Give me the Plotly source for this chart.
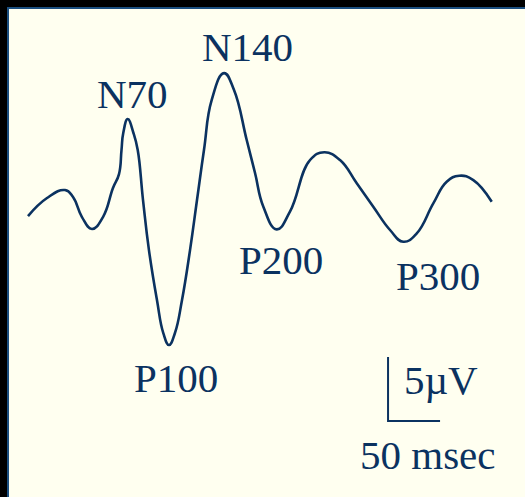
import plotly.graph_objects as go

# Waveform: time (ms) and amplitude (µV, negative plotted up)
time_ms = [0.0, 18.3, 35.6, 43.3, 51.9, 61.5, 72.1, 81.7, 87.5, 89.9, 91.6, 95.9, 101.4,
           105.5, 110.6, 116.3, 124.0, 130.1, 135.6, 141.3, 148.1, 155.8, 162.5, 169.2,
           176.6, 188.5, 198.1, 210.3, 218.3, 226.3, 239.1,
           252.0, 271.2, 284.9, 300.0, 316.1, 332.0, 348.1, 360.9, 373.8, 389.7, 402.6,
           414.7, 428.2, 445.9]
amp_uv = [0.47, -0.94, -1.56, -1.02, 0.55, 1.48, 0.55, -1.72, -2.81, -4.69, -6.02, -7.11, -6.02,
          -4.69, -0.78, 3.13, 7.03, 9.61, 10.55, 9.61, 7.03, 3.13, -0.78, -4.69,
          -8.59, -10.70, -9.38, -5.47, -2.89, -0.26, 1.51,
          0.10, -3.91, -4.51, -3.91, -2.09, -0.26, 1.56, 2.48, 1.82, -0.52, -2.21,
          -2.68, -2.34, -0.65]

# Component labels
labels = ["N70", "N140", "P100", "P200", "P300"]
label_t = [100.5, 211.5, 142.3, 243.3, 394.7]
label_v = [-9.10, -12.70, 13.16, 3.91, 5.16]

# Calibration bar
scale_t = [346.2, 346.2, 396.2]
scale_v = [11.48, 16.48, 16.48]
scale_labels = ["5µV", "50 msec"]
scale_label_t = [397.1, 384.6]
scale_label_v = [13.28, 19.14]

INK = "#0b3260"
CREAM = "#fffff0"
FONT = "Liberation Serif, Times New Roman, serif"

fig = go.Figure()
fig.add_trace(go.Scatter(x=time_ms, y=amp_uv, mode="lines",
                         line=dict(color=INK, width=2.6, shape="spline", smoothing=1.3),
                         hoverinfo="skip"))
fig.add_trace(go.Scatter(x=scale_t, y=scale_v, mode="lines",
                         line=dict(color=INK, width=2), hoverinfo="skip"))

for txt, t, v in zip(labels + scale_labels, label_t + scale_label_t, label_v + scale_label_v):
    fig.add_annotation(x=t, y=v, text=txt, showarrow=False, xanchor="center", yanchor="middle",
                       font=dict(family=FONT, size=41, color=INK))

fig.add_shape(type="rect", xref="paper", yref="paper", x0=8/525, x1=1.05, y0=-0.05, y1=1 - 8/497,
              fillcolor=CREAM, line=dict(color="#1b4f80", width=2), layer="below")

fig.update_layout(
    width=525, height=497, margin=dict(l=0, r=0, t=0, b=0),
    paper_bgcolor="black", plot_bgcolor="rgba(0,0,0,0)", showlegend=False,
    xaxis=dict(range=[-26.92, 477.88], visible=False, fixedrange=True),
    yaxis=dict(range=[22.42, -16.41], visible=False, fixedrange=True),
)
fig.write_html("out.html", config={"displayModeBar": False},
               post_script="document.body.style.margin='0';document.body.style.background='black';"
                           "document.body.style.overflow='hidden';")
